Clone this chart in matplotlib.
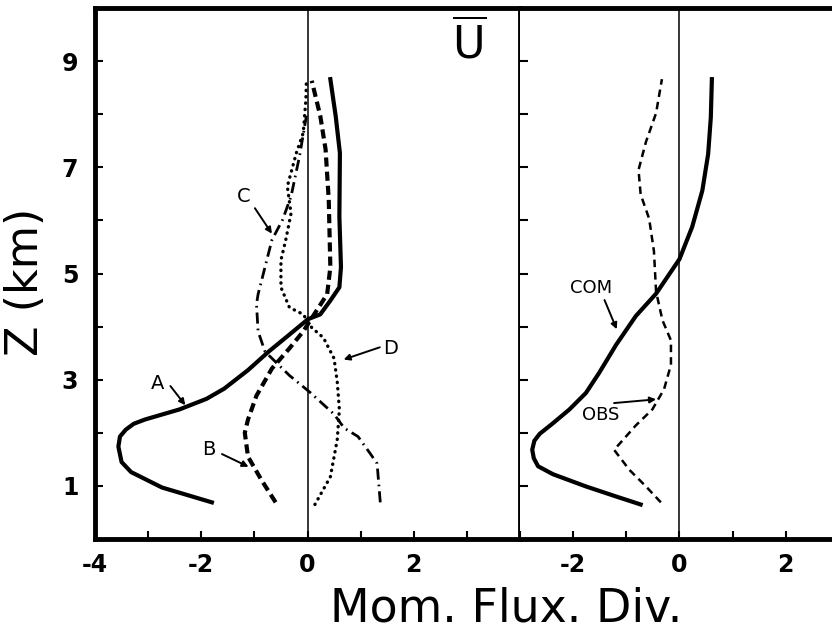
import matplotlib.pyplot as plt
import numpy as np

# Left panel profiles (x = momentum flux divergence, z = height in km)
a_x = [-1.80, -2.74, -3.32, -3.50, -3.56, -3.53, -3.42, -3.27, -3.06, -2.41, -1.90, -1.57, -1.12, -0.73, -0.34, 0.01, 0.24, 0.43, 0.60, 0.63, 0.60, 0.61, 0.53, 0.43]
a_z = [0.69, 0.97, 1.26, 1.45, 1.74, 1.93, 2.06, 2.17, 2.25, 2.44, 2.64, 2.83, 3.18, 3.53, 3.85, 4.14, 4.23, 4.49, 4.74, 5.12, 6.07, 7.27, 7.97, 8.66]

b_x = [-0.60, -0.86, -1.12, -1.18, -1.12, -0.96, -0.67, -0.34, -0.08, 0.17, 0.37, 0.43, 0.40, 0.34, 0.24, 0.08]
b_z = [0.69, 1.10, 1.55, 2.00, 2.25, 2.70, 3.21, 3.59, 3.91, 4.30, 4.61, 5.12, 6.39, 7.34, 7.97, 8.63]

c_x = [1.37, 1.31, 1.18, 0.95, 0.69, 0.50, 0.05, -0.34, -0.80, -0.93, -0.96, -0.93, -0.67, -0.47, -0.31, -0.15, -0.02]
c_z = [0.69, 1.42, 1.61, 1.93, 2.09, 2.35, 2.76, 3.08, 3.53, 3.91, 4.42, 4.61, 5.63, 6.01, 6.45, 7.21, 7.97]

d_x = [0.14, 0.43, 0.56, 0.60, 0.56, 0.50, 0.30, 0.08, -0.08, -0.34, -0.50, -0.50, -0.41, -0.31, -0.38, -0.21, -0.08, -0.03, -0.02]
d_z = [0.65, 1.17, 1.87, 2.44, 2.96, 3.40, 3.79, 3.98, 4.23, 4.36, 4.74, 5.25, 5.63, 6.13, 6.64, 7.27, 7.65, 8.28, 8.66]

# Right panel: computed vs observed
com_x = [-0.73, -1.19, -1.76, -2.38, -2.66, -2.74, -2.77, -2.73, -2.63, -2.38, -2.07, -1.76, -1.51, -1.19, -0.82, -0.44, 0.00, 0.24, 0.43, 0.54, 0.59, 0.61]
com_z = [0.65, 0.80, 0.99, 1.22, 1.37, 1.52, 1.68, 1.85, 1.98, 2.18, 2.44, 2.75, 3.13, 3.66, 4.20, 4.62, 5.27, 5.88, 6.56, 7.25, 7.94, 8.66]

obs_x = [-0.35, -0.63, -0.94, -1.23, -1.13, -0.82, -0.51, -0.29, -0.16, -0.16, -0.32, -0.44, -0.48, -0.57, -0.73, -0.77, -0.63, -0.44, -0.33]
obs_z = [0.69, 0.99, 1.30, 1.68, 1.79, 2.14, 2.44, 2.82, 3.28, 3.74, 4.12, 4.66, 5.42, 6.03, 6.49, 6.95, 7.48, 8.02, 8.66]

left_ticks = [-4, -3, -2, -1, 0, 1, 2, 3, 4]
left_ticklabels = ['-4', '', '-2', '', '0', '', '2', '', '']
right_ticks = [-3, -2, -1, 0, 1, 2]
right_ticklabels = ['', '-2', '', '0', '', '2']
z_ticks = list(range(0, 11))
z_ticklabels = ['', '1', '', '3', '', '5', '', '7', '', '9', '']

fig = plt.figure(figsize=(8.32, 6.32), dpi=100)
ax1 = fig.add_axes([95/832, 1-539/632, 425/832, 531/632])
ax2 = fig.add_axes([520/832, 1-539/632, 312/832, 531/632])

spine_lw = 3.5
for ax in (ax1, ax2):
    ax.set_ylim(0, 10)
    for s in ax.spines.values():
        s.set_linewidth(spine_lw)
    ax.axvline(0, color='k', lw=1.1, zorder=1)
    ax.tick_params(direction='in', length=6, width=1.5, labelsize=17, pad=10)
    ax.set_yticks(z_ticks)

ax1.set_xlim(-4, 4)
ax1.set_xticks(left_ticks)
ax1.set_xticklabels(left_ticklabels, fontweight='bold')
ax1.set_yticklabels(z_ticklabels, fontweight='bold')
ax1.tick_params(axis='y', pad=12)

ax2.set_xlim(-3.0, 2.87)
ax2.set_xticks(right_ticks)
ax2.set_xticklabels(right_ticklabels, fontweight='bold')
ax2.set_yticklabels([])
ax2.spines['right'].set_visible(False)
ax2.spines['left'].set_visible(False)

# left panel curves
ax1.plot(a_x, a_z, color='k', lw=3, solid_joinstyle='round')
ax1.plot(b_x, b_z, color='k', lw=3, linestyle=(0, (2.2, 1.2)))
ax1.plot(c_x, c_z, color='k', lw=2, linestyle=(0, (4, 1.8, 0.6, 1.8)))
ax1.plot(d_x, d_z, color='k', lw=2.4, linestyle=(0, (0.1, 1.8)), dash_capstyle='round')

arrow = dict(arrowstyle='-|>', lw=1.4, color='k', mutation_scale=9, shrinkA=0, shrinkB=0)
txt = dict(fontsize=14, ha='center', va='center')
ax1.text(-1.20, 6.45, 'C', **txt)
ax1.annotate('', xy=(-0.67, 5.75), xytext=(-0.99, 6.23), arrowprops=arrow)
ax1.text(-2.83, 2.92, 'A', **txt)
ax1.annotate('', xy=(-2.30, 2.52), xytext=(-2.58, 2.88), arrowprops=arrow)
ax1.text(-1.86, 1.68, 'B', **txt)
ax1.annotate('', xy=(-1.11, 1.36), xytext=(-1.61, 1.60), arrowprops=arrow)
ax1.text(1.57, 3.58, 'D', **txt)
ax1.annotate('', xy=(0.68, 3.38), xytext=(1.36, 3.61), arrowprops=arrow)
ax1.text(3.05, 9.32, r'$\overline{\mathrm{U}}$', fontsize=32, ha='center', va='center')

# right panel curves
ax2.plot(com_x, com_z, color='k', lw=3, solid_joinstyle='round')
ax2.plot(obs_x, obs_z, color='k', lw=1.8, linestyle=(0, (3, 2)))
ax2.text(-1.66, 4.73, 'COM', fontsize=13, ha='center', va='center')
ax2.annotate('', xy=(-1.18, 3.95), xytext=(-1.41, 4.50), arrowprops=arrow)
ax2.text(-1.48, 2.33, 'OBS', fontsize=13, ha='center', va='center')
ax2.annotate('', xy=(-0.44, 2.63), xytext=(-1.23, 2.56), arrowprops=arrow)

fig.text(26/832, 1-282/632, 'Z (km)', rotation=90, fontsize=32, ha='center', va='center')
fig.text(506/832, 1-622/632, 'Mom. Flux. Div.', fontsize=33, ha='center', va='baseline')

fig.savefig('out.png', dpi=100)
